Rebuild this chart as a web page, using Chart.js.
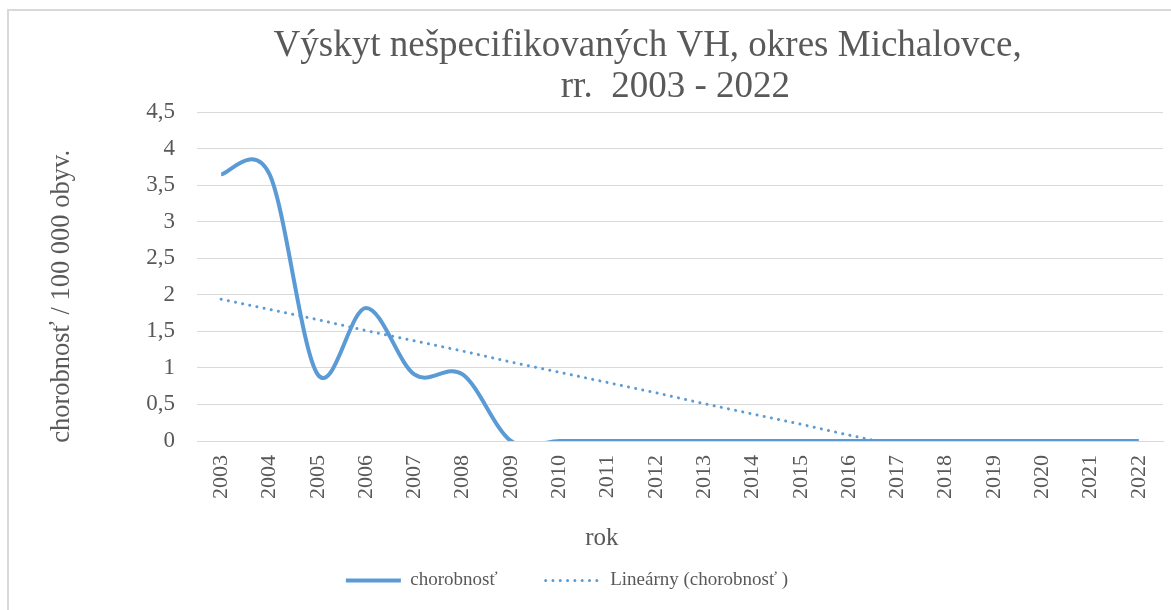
<!DOCTYPE html>
<html>
<head>
<meta charset="utf-8">
<script src="https://cdn.jsdelivr.net/npm/chart.js@4.4.1/dist/chart.umd.min.js"></script>
<style>
    html, body { margin: 0; padding: 0; background: #fff; overflow: hidden; width: 1171px; height: 610px; }
    #frame {
        position: absolute; left: 7px; top: 9px; width: 1162px; height: 599px;
        border-left: 2px solid #d9d9d9; border-top: 2px solid #d9d9d9;
    }
    #wrap { position: absolute; left: 0; top: 0; width: 1162px; height: 599px; }
</style>
</head>
<body>
<div id="frame"><div id="wrap"><canvas id="lineChart"></canvas></div></div>
<script>
var years = ["2003", "2004", "2005", "2006", "2007", "2008", "2009", "2010", "2011", "2012",
    "2013", "2014", "2015", "2016", "2017", "2018", "2019", "2020", "2021", "2022"];
var chorobnost = [3.65, 3.65, 0.91, 1.82, 0.91, 0.91, 0, 0, 0, 0, 0, 0, 0, 0, 0, 0, 0, 0, 0, 0];
var linearny = [1.94, 1.80, 1.66, 1.51, 1.37, 1.23, 1.08, 0.94, 0.80, 0.66,
    0.51, 0.37, 0.23, 0.08, -0.06, -0.20, -0.35, -0.49, -0.63, -0.77];
var yTicks = [0, 0.5, 1, 1.5, 2, 2.5, 3, 3.5, 4, 4.5];

var serif = "'Liberation Serif', 'Times New Roman', serif";
var textColor = "#595959";
var blue = "#5B9BD5";

// Excel style smoothing: catmull-rom control points (1/6 of neighbour span)
var excelSmooth = {
    id: "excelSmooth",
    beforeDatasetDraw: function (chart, args) {
        if (args.index !== 0) return;
        var pts = args.meta.data;
        var n = pts.length;
        for (var i = 0; i < n; i++) {
            var p = pts[i];
            var prev = pts[Math.max(i - 1, 0)];
            var next = pts[Math.min(i + 1, n - 1)];
            var dx = (next.x - prev.x) / 6;
            var dy = (next.y - prev.y) / 6;
            p.cp1x = p.x - dx; p.cp1y = p.y - dy;
            p.cp2x = p.x + dx; p.cp2y = p.y + dy;
        }
        args.meta.dataset._pointsUpdated = true;
    }
};

var lineData = {
    labels: years,
    datasets: [{
        label: "chorobnosť",
        data: chorobnost,
        borderColor: blue,
        backgroundColor: blue,
        borderWidth: 4,
        tension: 0.5,
        capBezierPoints: false,
        pointRadius: 0,
        pointHoverRadius: 0
    }, {
        label: "Lineárny (chorobnosť )",
        data: linearny,
        borderColor: blue,
        backgroundColor: blue,
        borderWidth: 3,
        borderDash: [0.01, 7.3],
        borderCapStyle: "round",
        tension: 0,
        pointRadius: 0,
        pointHoverRadius: 0
    }]
};

var lineOptions = {
    responsive: true,
    maintainAspectRatio: false,
    animation: false,
    layout: { padding: { left: 0, right: 8, top: 0, bottom: 10 } },
    plugins: {
        tooltip: { enabled: false },
        title: {
            display: true,
            fullSize: false,
            text: ["Výskyt nešpecifikovaných VH, okres Michalovce,       ", "rr.  2003 - 2022 "],
            color: textColor,
            font: { family: serif, size: 37, weight: "normal", lineHeight: 1.1 },
            padding: { top: 15, bottom: 4.6 }
        },
        legend: {
            position: "bottom",
            labels: {
                color: textColor,
                font: { family: serif, size: 19 },
                usePointStyle: true,
                pointStyle: "line",
                pointStyleWidth: 55,
                padding: 10,
                generateLabels: function (chart) {
                    var items = Chart.defaults.plugins.legend.labels.generateLabels(chart);
                    items[0].text = items[0].text + "        ";
                    items[0].lineWidth = 4;
                    items[0].lineDash = [];
                    items[0].lineCap = "butt";
                    items[1].text = items[1].text + "        ";
                    items[1].lineWidth = 3;
                    items[1].lineDash = [0.01, 7.3];
                    items[1].lineCap = "round";
                    return items;
                }
            }
        }
    },
    scales: {
        x: {
            offset: true,
            afterFit: function (axis) {
                axis.height = 120;
                axis.paddingLeft = 0;
                axis.paddingRight = 0;
            },
            grid: { display: false, drawTicks: false, offset: true },
            border: { display: true, color: "#d9d9d9", width: 1 },
            ticks: {
                color: textColor,
                font: { family: serif, size: 22 },
                autoSkip: false,
                minRotation: 90,
                maxRotation: 90,
                padding: 14
            },
            title: {
                display: true,
                text: "rok" + "                         ",
                color: textColor,
                font: { family: serif, size: 25 },
                padding: { top: 24, bottom: 8 }
            }
        },
        y: {
            min: 0,
            max: 4.5,
            afterBuildTicks: function (axis) {
                axis.ticks = yTicks.map(function (v) { return { value: v }; });
            },
            afterFit: function (axis) { axis.width = 188; },
            grid: { color: "#d9d9d9", drawTicks: false, lineWidth: 1 },
            border: { display: false },
            ticks: {
                color: textColor,
                font: { family: serif, size: 23 },
                padding: 22,
                callback: function (v) { return String(v).replace(".", ","); }
            },
            title: {
                display: true,
                text: "chorobnosť / 100 000 obyv." + "      ",
                color: textColor,
                font: { family: serif, size: 26.5 },
                padding: { top: 37, bottom: 10 }
            }
        }
    }
};

var ctx = document.getElementById("lineChart").getContext("2d");
new Chart(ctx, { type: "line", data: lineData, options: lineOptions, plugins: [excelSmooth] });
</script>
</body>
</html>
